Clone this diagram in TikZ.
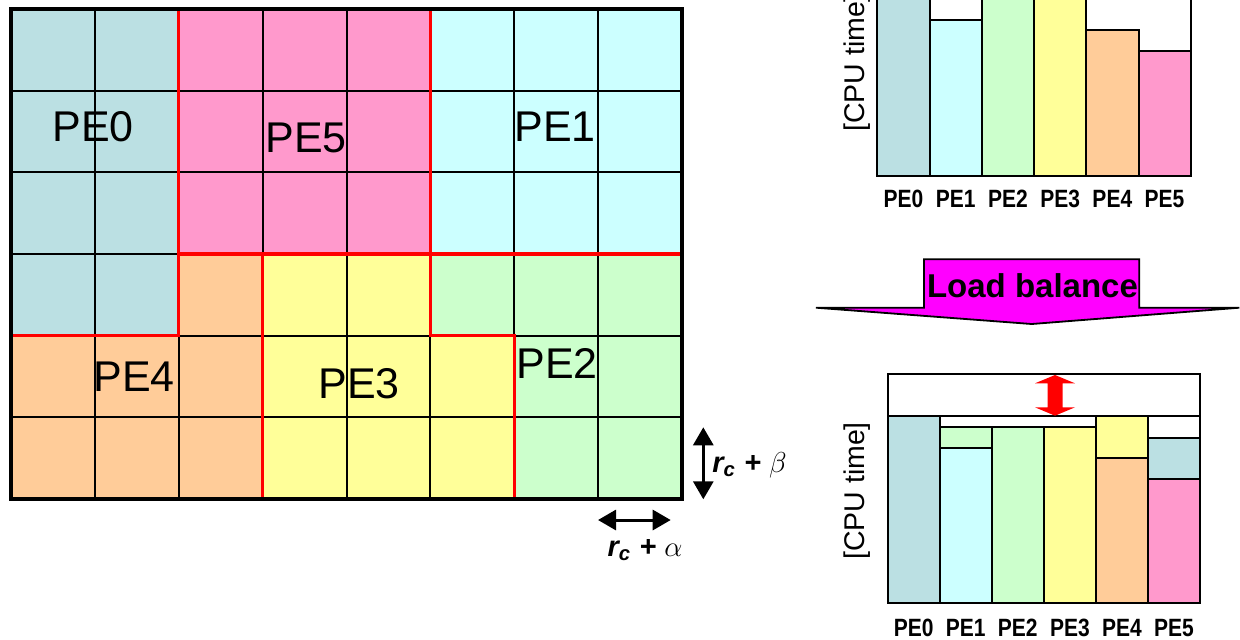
\documentclass[tikz,border=0pt]{standalone}
\usepackage{fontspec}
\setmainfont{Liberation Sans}
\usepackage{xcolor}
\usepackage{tikz}
\usetikzlibrary{arrows.meta}
\definecolor{pe0}{HTML}{BBE0E3}
\definecolor{pe1}{HTML}{CCFFFF}
\definecolor{pe2}{HTML}{CCFFCC}
\definecolor{pe3}{HTML}{FFFF99}
\definecolor{pe4}{HTML}{FFCC99}
\definecolor{pe5}{HTML}{FF99CC}
\definecolor{lbmagenta}{HTML}{FF00FF}
\tikzset{
  gridline/.style   = {draw=black, line width=1pt},
  pebound/.style    = {draw=red, line width=1.6pt},
  outerframe/.style = {draw=black, line width=2.2pt},
  pelabel/.style    = {font=\fontsize{21.5}{24}\selectfont, inner sep=0pt},
  bar/.style        = {draw=black, line width=1pt},
  barlabel/.style   = {font=\bfseries\fontsize{12.5}{14}\selectfont, inner sep=0pt},
  axislabel/.style  = {font=\fontsize{14.25}{16}\selectfont, rotate=90, inner sep=0pt},
  dimarrow/.style   = {{Triangle[width=10pt,length=9pt]}-{Triangle[width=10pt,length=9pt]},
                       line width=1.5pt},
  dimlabel/.style   = {font=\bfseries\itshape\fontsize{14.5}{16}\selectfont, inner sep=0pt},
  lbarrow/.style    = {draw=black, fill=lbmagenta, line width=0.9pt},
  lblabel/.style    = {font=\bfseries\fontsize{16.5}{18}\selectfont, inner sep=0pt},
  gaparrow/.style   = {fill=red},
}

\begin{document}
\begin{tikzpicture}[x=0.5pt, y=-0.5pt]
  \useasboundingbox (0,0) rectangle (1240,639);
  \clip (0,0) rectangle (1240,639);

  % domain decomposition
  \begin{scope}[shift={(11,9)}, x=41.9375pt, y=-40.8333pt]
    \fill[pe0] (0,0) rectangle (2,4);
    \fill[pe5] (2,0) rectangle (5,3);
    \fill[pe1] (5,0) rectangle (8,3);
    \fill[pe4] (2,3) -- (3,3) -- (3,6) -- (0,6) -- (0,4) -- (2,4) -- cycle;
    \fill[pe3] (3,3) -- (5,3) -- (5,4) -- (6,4) -- (6,6) -- (3,6) -- cycle;
    \fill[pe2] (5,3) -- (8,3) -- (8,6) -- (6,6) -- (6,4) -- (5,4) -- cycle;
    \foreach \c in {1,...,7} \draw[gridline] (\c,0) -- (\c,6);
    \foreach \r in {1,...,5} \draw[gridline] (0,\r) -- (8,\r);
    \draw[pebound] (2,0) -- (2,4) -- (0,4);
    \draw[pebound] (5,0) -- (5,4) -- (6,4) -- (6,6);
    \draw[pebound] (2,3) -- (8,3);
    \draw[pebound] (3,3) -- (3,6);
    \draw[outerframe] (0,0) rectangle (8,6);
  \end{scope}
  \node[pelabel] (pe0) at (93,127) {PE0};
  \node[pelabel] (pe5) at (306,138) {PE5};
  \node[pelabel] (pe1) at (555,127) {PE1};
  \node[pelabel] (pe4) at (134,377) {PE4};
  \node[pelabel] (pe3) at (359,384) {PE3};
  \node[pelabel] (pe2) at (557,363) {PE2};

  % cutoff widths
  \coordinate (vtop) at (703.3,427.3);
  \coordinate (vbot) at (703.3,499.3);
  \coordinate (hleft) at (598,520);
  \coordinate (hright) at (670.7,520);
  \draw[dimarrow] (vtop) -- (vbot);
  \draw[dimarrow] (hleft) -- (hright);
  \node[dimlabel, anchor=west] (rbeta) at (712,465) {r\textsubscript{c} + $\beta$};
  \node[dimlabel] (ralpha) at (645,550) {r\textsubscript{c} + $\alpha$};

  % CPU time before
  \draw[bar, fill=white] (877.3,-8) rectangle (1190.7,176);
  \draw[bar, fill=pe0] (877.3,176) rectangle (929.5,-8);
  \draw[bar, fill=pe1] (929.5,176) rectangle (981.8,20);
  \draw[bar, fill=pe2] (981.8,176) rectangle (1034,-8);
  \draw[bar, fill=pe3] (1034,176) rectangle (1086.3,-8);
  \draw[bar, fill=pe4] (1086.3,176) rectangle (1138.5,30);
  \draw[bar, fill=pe5] (1138.5,176) rectangle (1190.7,51);
  \node[axislabel] (ytop) at (857,63) {[CPU time]};
  \foreach \i in {0,...,5}
    \node[barlabel] (top\i) at ({903.4+52.23*\i},199) {\scalebox{0.84}[1]{PE\i}};

  % load balance arrow
  \draw[lbarrow] (924,259.3) -- (1139.3,259.3) -- (1139.3,307.7) -- (1239.3,307.7)
    -- (1031.7,324) -- (816,307.7) -- (924,307.7) -- cycle;
  \node[lblabel] (lb) at (1032.5,286) {Load balance};

  % CPU time after
  \draw[bar, fill=white] (887.7,374.3) rectangle (1200,603.3);
  \draw[bar] (887.7,415.7) -- (1200,415.7);
  \draw[bar, fill=pe0] (887.7,603.3) rectangle (939.75,415.7);
  \draw[bar, fill=pe1] (939.75,603.3) rectangle (991.8,448);
  \draw[bar, fill=pe2] (939.75,448) rectangle (991.8,427.3);
  \draw[bar, fill=pe2] (991.8,603.3) rectangle (1043.85,427.3);
  \draw[bar, fill=pe3] (1043.85,603.3) rectangle (1095.9,427.3);
  \draw[bar, fill=pe4] (1095.9,603.3) rectangle (1147.95,458);
  \draw[bar, fill=pe3] (1095.9,458) rectangle (1147.95,415.7);
  \draw[bar, fill=pe5] (1147.95,603.3) rectangle (1200,479);
  \draw[bar, fill=pe0] (1147.95,479) rectangle (1200,438);
  \fill[gaparrow] (1055,375) -- (1075,383.3) -- (1062.5,383.3) -- (1062.5,407.3)
    -- (1075,407.3) -- (1055,415.7) -- (1035,407.3) -- (1047.5,407.3)
    -- (1047.5,383.3) -- (1035,383.3) -- cycle;
  \node[axislabel] (ybot) at (857,491) {[CPU time]};
  \foreach \i in {0,...,5}
    \node[barlabel] (bot\i) at ({913.7+52.05*\i},628) {\scalebox{0.84}[1]{PE\i}};
\end{tikzpicture}
\end{document}
